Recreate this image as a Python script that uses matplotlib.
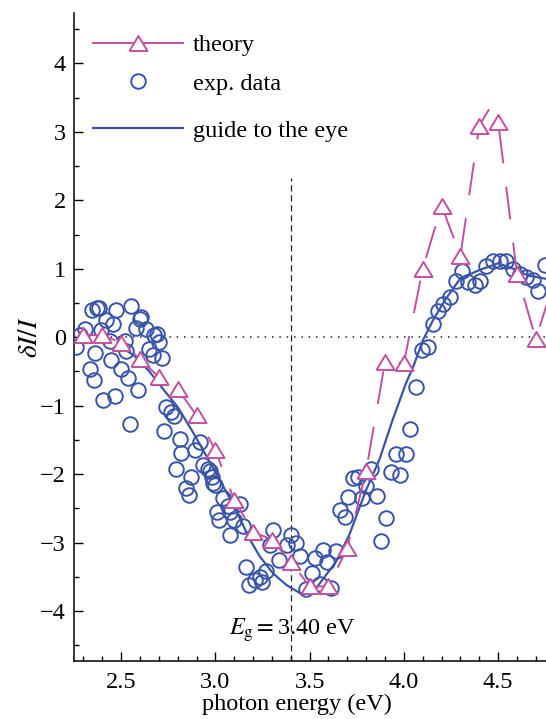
import numpy as np
import matplotlib
matplotlib.use("Agg")
import matplotlib.pyplot as plt
from matplotlib.lines import Line2D
from matplotlib.ticker import MultipleLocator

# ================================
# DATA
# ================================
theory_x = [2.3, 2.4, 2.5, 2.6, 2.7, 2.8, 2.9, 3.0, 3.1, 3.2, 3.3, 3.4, 3.5, 3.6,
            3.7, 3.8, 3.9, 4.0, 4.1, 4.2, 4.3, 4.4, 4.45, 4.5, 4.6, 4.7, 4.8]
theory_y = [0.03, 0.03, -0.08, -0.32, -0.58, -0.76, -1.14, -1.65, -2.38, -2.84,
            -2.96, -3.28, -3.64, -3.64, -3.08, -1.95, -0.36, -0.38, 1.0, 1.92,
            1.19, 3.09, 3.32, 3.15, 0.93, -0.03, 0.85]
# point at 4.45 carries no marker
theory_marked = [i for i in range(len(theory_x)) if theory_x[i] != 4.45]

exp_x = [2.347, 2.385, 2.474, 2.554, 2.42, 2.456, 2.60, 2.58, 2.633, 2.69,
         2.306, 2.28, 2.26, 2.394, 2.364, 2.44, 2.527, 2.447, 2.50, 2.536,
         2.336, 2.354, 2.65, 2.668, 2.718, 2.70, 2.589, 2.47, 2.403, 2.545,
         2.74, 2.766, 2.778, 2.73, 2.81, 2.518, 2.677, 2.607, 2.37,
         2.917, 2.89, 2.82, 2.934, 2.97, 2.98, 2.79, 2.87, 2.846, 2.86,
         3.0, 3.04, 3.13, 3.01, 3.076, 3.02, 3.10, 3.146, 3.076, 3.067,
         3.306, 3.29, 3.34, 3.40, 3.43, 3.38, 3.165, 3.27, 3.235, 3.21,
         3.18, 3.25, 3.45, 3.53, 3.57, 3.51, 3.48, 3.59, 2.96, 2.987,
         4.063, 4.035, 3.957, 4.01, 3.93, 3.98, 3.904, 3.878, 3.828, 3.73,
         3.757, 3.80, 3.855, 3.78, 3.704, 3.66, 3.686, 3.64, 3.554, 3.616,
         4.094, 4.13, 4.156, 4.18, 4.21, 4.244, 4.276, 4.306, 4.34, 4.377,
         4.404, 4.435, 4.474, 4.51, 4.54, 4.58, 4.616, 4.65, 4.686, 4.713,
         4.75]
exp_y = [0.39, 0.43, 0.39, 0.45, 0.25, 0.20, 0.26, 0.13, 0.12, 0.05,
         0.12, 0.03, -0.14, 0.10, -0.23, -0.05, -0.20, -0.33, -0.47, -0.59,
         -0.47, -0.63, -0.17, -0.26, -0.30, -0.07, -0.77, -0.86, -0.92, -1.27,
         -1.02, -1.09, -1.15, -1.37, -1.48, -0.05, 0.03, 0.29, 0.42,
         -1.53, -1.65, -1.69, -1.87, -1.96, -2.04, -1.92, -2.04, -2.21, -2.30,
         -2.16, -2.35, -2.43, -2.55, -2.55, -2.67, -2.67, -2.76, -2.89, -2.47,
         -2.81, -3.03, -3.25, -2.89, -3.01, -3.03, -3.35, -3.42, -3.50, -3.54,
         -3.62, -3.57, -3.20, -3.23, -3.11, -3.45, -3.68, -3.28, -1.92, -2.13,
         -0.73, -1.34, -1.70, -1.71, -1.97, -2.01, -2.64, -2.98, -1.93, -2.06,
         -2.04, -2.17, -2.32, -2.35, -2.33, -2.52, -2.62, -3.12, -3.60, -3.66,
         -0.19, -0.14, 0.20, 0.38, 0.49, 0.59, 0.82, 0.97, 0.80, 0.76,
         0.82, 1.04, 1.11, 1.11, 1.12, 1.00, 0.93, 0.88, 0.83, 0.68,
         1.05]

guide_x = [2.52, 2.57, 2.65, 2.72, 2.80, 2.89, 3.0, 3.1, 3.18, 3.235, 3.306,
           3.377, 3.45, 3.52, 3.58, 3.64, 3.71, 3.80, 3.87, 3.94, 4.01, 4.05,
           4.10, 4.155, 4.22, 4.30, 4.40, 4.50, 4.58, 4.66, 4.76]
guide_y = [-0.18, -0.27, -0.5, -0.75, -1.02, -1.43, -1.97, -2.47, -2.94, -3.20,
           -3.45, -3.62, -3.74, -3.72, -3.50, -3.28, -2.89, -2.23, -1.79, -1.21,
           -0.68, -0.43, -0.05, 0.25, 0.55, 0.86, 0.98, 1.08, 1.0, 0.9, 0.85]

e_gap = 3.40

# ================================
# STYLE
# ================================
plt.rcParams["font.family"] = ["Liberation Serif", "DejaVu Serif"]
plt.rcParams["mathtext.fontset"] = "stix"

magenta = "#C2509F"
blue = "#3A55A8"
fs = 17.5

tri = [(-1, -0.835), (1, -0.835), (0, 0.835), (-1, -0.835)]

fig = plt.figure(figsize=(5.46, 7.19), dpi=100)
ax = fig.add_axes([74 / 546, 58 / 719, 472 / 546, 648.3 / 719])

ax.set_xlim(2.25, 4.754)
ax.set_ylim(-4.73, 4.74)

# reference lines
ax.axhline(0, color="#222222", lw=1.1, linestyle=(0, (1, 3.8)), zorder=1)
ax.plot([e_gap, e_gap], [-4.73, 2.32], color="#222222", lw=0.9,
        linestyle=(0, (5, 3)), zorder=1)

# exp data
ax.plot(exp_x, exp_y, linestyle="none", marker="o", ms=10.5, mfc="none",
        mec=blue, mew=1.4, zorder=3)

# guide to the eye
ax.plot(guide_x, guide_y, color=blue, lw=1.6, zorder=3.5)

# theory
ax.plot(theory_x, theory_y, color=magenta, lw=1.4, linestyle=(0, (17, 12)),
        marker=tri, ms=13, mfc="white", mec=magenta, mew=1.4,
        markevery=theory_marked, zorder=4)

ax.text(e_gap + 0.01, -4.35, r"$E_{\mathrm{g}}=$3.40 eV", fontsize=fs,
        ha="center", va="baseline", zorder=2)

# axes look
for side in ["top", "right"]:
    ax.spines[side].set_visible(False)
for side in ["left", "bottom"]:
    ax.spines[side].set_linewidth(1.1)

ax.xaxis.set_major_locator(MultipleLocator(0.5))
ax.xaxis.set_minor_locator(MultipleLocator(0.1))
ax.yaxis.set_major_locator(MultipleLocator(1))
ax.yaxis.set_minor_locator(MultipleLocator(0.5))
ax.tick_params(which="both", direction="in", width=1.0, labelsize=fs)
ax.tick_params(which="major", length=6.5)
ax.tick_params(which="minor", length=3.3)
ax.tick_params(axis="x", pad=8)
ax.tick_params(axis="y", pad=6)

ax.set_xlabel("photon energy (eV)", fontsize=fs)
ax.xaxis.set_label_coords(0.472, -0.05)
ax.set_ylabel(r"$\delta I/I$", fontsize=fs + 2)
ax.yaxis.set_label_coords(-0.066, 0.5)

# legend, in two parts so the last row sits a bit lower
h_theory = Line2D([], [], color=magenta, lw=1.4, marker=tri, ms=13,
                  mfc="white", mec=magenta, mew=1.4)
h_exp = Line2D([], [], linestyle="none", marker="o", ms=10.5, mfc="none",
               mec=blue, mew=1.4)
h_guide = Line2D([], [], color=blue, lw=1.6)

leg_kw = dict(loc="upper left", frameon=False, fontsize=fs, handlelength=3.7,
              handletextpad=0.42, borderpad=0, borderaxespad=0)
leg1 = ax.legend([h_theory, h_exp], ["theory", "exp. data"],
                 bbox_to_anchor=(0.04, 0.967), labelspacing=0.68, **leg_kw)
ax.add_artist(leg1)
ax.legend([h_guide], ["guide to the eye"], bbox_to_anchor=(0.04, 0.835),
          **leg_kw)

fig.savefig("out.png", dpi=100)
